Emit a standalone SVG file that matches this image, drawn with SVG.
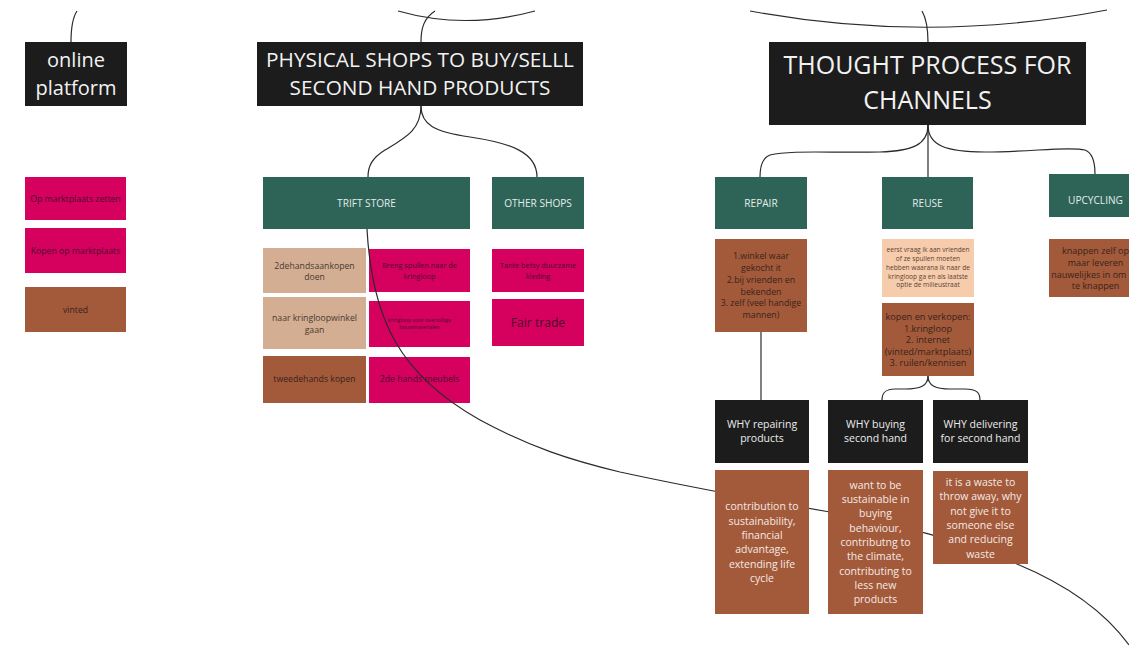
<svg xmlns="http://www.w3.org/2000/svg" width="1129" height="652" viewBox="0 0 1129 652">
<style>
text{font-family:"Open Sans","Noto Sans","Liberation Sans",sans-serif;text-anchor:middle}
.blk{fill:#1c1c1c}
.grn{fill:#2e6358}
.pnk{fill:#d6005f}
.brn{fill:#a35a3b}
.tan{fill:#d3ae92}
.pch{fill:#f6ccad}
.conn{fill:none;stroke:#2b2b2b;stroke-width:1.2}
.tw{fill:#f2f2f2}
.tg{fill:#e3ece8;font-size:10.1px}
.tp{fill:#4a0d2b}
.tb{fill:#38231a}
.tt{fill:#4a3a30}
.tpc{fill:#5a4232;font-size:6.6px}
.ta{fill:#f3e9e3;font-size:10.5px}
.tq{fill:#ececec;font-size:10.5px}
</style>
<rect width="1129" height="652" fill="#ffffff"/>
<g id="online-platform">
<rect class="blk" x="25" y="42" width="102" height="64"/>
<text class="tw" x="76" y="67" font-size="20">online</text>
<text class="tw" x="76" y="95" font-size="20">platform</text>
</g>
<g id="op-marktplaats-zetten">
<rect class="pnk" x="25" y="177" width="101" height="43"/>
<text class="tp" x="75.5" y="202.3" font-size="8.7">Op marktplaats zetten</text>
</g>
<g id="kopen-op-marktplaats">
<rect class="pnk" x="25" y="228" width="101" height="45"/>
<text class="tp" x="75.5" y="253.7" font-size="8.7">Kopen op marktplaats</text>
</g>
<g id="vinted">
<rect class="brn" x="25" y="287" width="101" height="45"/>
<text class="tb" x="75.5" y="313" font-size="8.7">vinted</text>
</g>
<g id="physical-shops">
<rect class="blk" x="257" y="42" width="326" height="64"/>
<text class="tw" x="420" y="67" font-size="20.8">PHYSICAL SHOPS TO BUY/SELLL</text>
<text class="tw" x="420" y="95" font-size="20.8">SECOND HAND PRODUCTS</text>
</g>
<g id="trift-store">
<rect class="grn" x="263" y="177" width="207" height="52"/>
<text class="tg" x="366.5" y="206.8">TRIFT STORE</text>
</g>
<g id="other-shops">
<rect class="grn" x="492" y="177" width="92" height="52"/>
<text class="tg" x="538" y="206.8">OTHER SHOPS</text>
</g>
<g id="tweedehandsaankopen">
<rect class="tan" x="263" y="248" width="103" height="45"/>
<text class="tt" x="314.5" y="268.7" font-size="8.7">2dehandsaankopen</text>
<text class="tt" x="314.5" y="279.7" font-size="8.7">doen</text>
</g>
<g id="naar-kringloopwinkel">
<rect class="tan" x="263" y="297" width="103" height="52"/>
<text class="tt" x="314.5" y="321.3" font-size="8.7">naar kringloopwinkel</text>
<text class="tt" x="314.5" y="333" font-size="8.7">gaan</text>
</g>
<g id="tweedehands-kopen">
<rect class="brn" x="263" y="356" width="103" height="47"/>
<text class="tb" x="314.5" y="382" font-size="8.7">tweedehands kopen</text>
</g>
<g id="breng-spullen">
<rect class="pnk" x="369" y="249" width="101" height="43"/>
<text class="tp" x="419.5" y="268.2" font-size="7.3">Breng spullen naar de</text>
<text class="tp" x="419.5" y="278.5" font-size="7.3">kringloop</text>
</g>
<g id="kringloop-bouwmaterialen">
<rect class="pnk" x="369" y="301" width="101" height="46"/>
<text class="tp" x="419.5" y="321.9" font-size="5.3">kringloop voor overtollige</text>
<text class="tp" x="419.5" y="329.2" font-size="5.3">bouwmaterialen</text>
</g>
<g id="tweedehands-meubels">
<rect class="pnk" x="369" y="357" width="101" height="46"/>
<text class="tp" x="419.5" y="382" font-size="8.7">2de hands meubels</text>
</g>
<g id="tante-betsy">
<rect class="pnk" x="492" y="249" width="92" height="43"/>
<text class="tp" x="538" y="268.2" font-size="7.3">Tante betsy duurzame</text>
<text class="tp" x="538" y="278.5" font-size="7.3">kleding</text>
</g>
<g id="fair-trade">
<rect class="pnk" x="492" y="299" width="92" height="47"/>
<text class="tp" x="538" y="327" font-size="12.1">Fair trade</text>
</g>
<g id="connectors">
<path class="conn" d="M71 42 C71 25 73 17 77 11"/>
<path class="conn" d="M398 11 Q465 30 535 11"/>
<path class="conn" d="M421 42 C421 28 424 18 435 11"/>
<path class="conn" d="M750 11 Q928 44 1107 10"/>
<path class="conn" d="M928 42 C928 28 926 18 922 11"/>
<path class="conn" d="M421 106 C421 130 405 138 385 150 C372 158 368 166 368 177"/>
<path class="conn" d="M421 106 C421 125 435 132 470 137 C510 143 537 152 537 177"/>
<path class="conn" d="M928 125 C928 145 912 151 880 152 C830 153 790 150 770 155 C762 158 760 166 760 177"/>
<path class="conn" d="M928 125 L928 177"/>
<path class="conn" d="M928 125 C928 145 945 152 985 152 C1030 152 1070 146 1085 150 C1093 153 1095 163 1095 174"/>
<path class="conn" d="M761 332 L761 400"/>
<path class="conn" d="M928 376 C928 386 920 389 905 389 L895 389 C885 389 882 393 882 400"/>
<path class="conn" d="M928 376 C928 386 936 389 950 389 L965 389 C977 389 980 393 980 400"/>
<path class="conn" d="M367 229 C372 320 400 375 480 420 C530 447 570 460 620 472 C680 485 760 500 830 512 C900 525 960 540 1017 564 C1065 584 1105 612 1129 645"/>
</g>
<g id="thought-process">
<rect class="blk" x="769" y="42" width="317" height="83"/>
<text class="tw" x="927.5" y="74" font-size="25">THOUGHT PROCESS FOR</text>
<text class="tw" x="927.5" y="109" font-size="25">CHANNELS</text>
</g>
<g id="repair">
<rect class="grn" x="715" y="177" width="92" height="52"/>
<text class="tg" x="761" y="206.5">REPAIR</text>
</g>
<g id="reuse">
<rect class="grn" x="882" y="177" width="91" height="52"/>
<text class="tg" x="927.5" y="206.5">REUSE</text>
</g>
<g id="upcycling">
<rect class="grn" x="1049" y="174" width="93" height="43"/>
<text class="tg" x="1095.5" y="203.5">UPCYCLING</text>
</g>
<g id="repair-where">
<rect class="brn" x="715" y="239" width="92" height="93"/>
<text class="tb" x="761" y="259.1" font-size="8.8">1.winkel waar</text>
<text class="tb" x="761" y="270.9" font-size="8.8">gekocht it</text>
<text class="tb" x="761" y="282.7" font-size="8.8">2.bij vrienden en</text>
<text class="tb" x="761" y="294.5" font-size="8.8">bekenden</text>
<text class="tb" x="761" y="306.3" font-size="8.8">3. zelf (veel handige</text>
<text class="tb" x="761" y="318.1" font-size="8.8">mannen)</text>
</g>
<g id="reuse-first-ask">
<rect class="pch" x="882" y="239" width="92" height="58"/>
<text class="tpc" x="928" y="252.3">eerst vraag ik aan vrienden</text>
<text class="tpc" x="928" y="261">of ze spullen moeten</text>
<text class="tpc" x="928" y="269.8">hebben waarana ik naar de</text>
<text class="tpc" x="928" y="278.5">kringloop ga en als laatste</text>
<text class="tpc" x="928" y="287.3">optie de milieustraat</text>
</g>
<g id="reuse-buy-sell">
<rect class="brn" x="882" y="303" width="92" height="73"/>
<text class="tb" x="928" y="320.2" font-size="9.2">kopen en verkopen:</text>
<text class="tb" x="928" y="331.7" font-size="9.2">1.kringloop</text>
<text class="tb" x="928" y="343.2" font-size="9.2">2. internet</text>
<text class="tb" x="928" y="354.7" font-size="9.2">(vinted/marktplaats)</text>
<text class="tb" x="928" y="366.2" font-size="9.2">3. ruilen/kennisen</text>
</g>
<g id="upcycling-self">
<rect class="brn" x="1049" y="239" width="93" height="58"/>
<text class="tb" x="1095.5" y="254.1" font-size="9">knappen zelf op</text>
<text class="tb" x="1095.5" y="265.8" font-size="9">maar leveren</text>
<text class="tb" x="1095.5" y="277.5" font-size="9">nauwelijkes in om op</text>
<text class="tb" x="1095.5" y="289.2" font-size="9">te knappen</text>
</g>
<g id="why-repairing">
<rect class="blk" x="715" y="400" width="94" height="63"/>
<text class="tq" x="762" y="427.9">WHY repairing</text>
<text class="tq" x="762" y="441.9">products</text>
</g>
<g id="why-buying">
<rect class="blk" x="828" y="400" width="95" height="63"/>
<text class="tq" x="875.5" y="427.9">WHY buying</text>
<text class="tq" x="875.5" y="441.9">second hand</text>
</g>
<g id="why-delivering">
<rect class="blk" x="933" y="400" width="95" height="63"/>
<text class="tq" x="980.5" y="427.9">WHY delivering</text>
<text class="tq" x="980.5" y="441.9">for second hand</text>
</g>
<g id="answer-repairing">
<rect class="brn" x="715" y="470" width="94" height="144"/>
<text class="ta" x="762" y="510.4">contribution to</text>
<text class="ta" x="762" y="524.7">sustainability,</text>
<text class="ta" x="762" y="539">financial</text>
<text class="ta" x="762" y="553.4">advantage,</text>
<text class="ta" x="762" y="567.7">extending life</text>
<text class="ta" x="762" y="582">cycle</text>
</g>
<g id="answer-buying">
<rect class="brn" x="828" y="470" width="95" height="144"/>
<text class="ta" x="875.5" y="488.7">want to be</text>
<text class="ta" x="875.5" y="503">sustainable in</text>
<text class="ta" x="875.5" y="517.4">buying</text>
<text class="ta" x="875.5" y="531.7">behaviour,</text>
<text class="ta" x="875.5" y="546">contributng to</text>
<text class="ta" x="875.5" y="560.4">the climate,</text>
<text class="ta" x="875.5" y="574.7">contributing to</text>
<text class="ta" x="875.5" y="589">less new</text>
<text class="ta" x="875.5" y="603.4">products</text>
</g>
<g id="answer-delivering">
<rect class="brn" x="933" y="471" width="95" height="93"/>
<text class="ta" x="980.5" y="486">it is a waste to</text>
<text class="ta" x="980.5" y="500.4">throw away, why</text>
<text class="ta" x="980.5" y="514.7">not give it to</text>
<text class="ta" x="980.5" y="529">someone else</text>
<text class="ta" x="980.5" y="543.4">and reducing</text>
<text class="ta" x="980.5" y="557.7">waste</text>
</g>
</svg>
